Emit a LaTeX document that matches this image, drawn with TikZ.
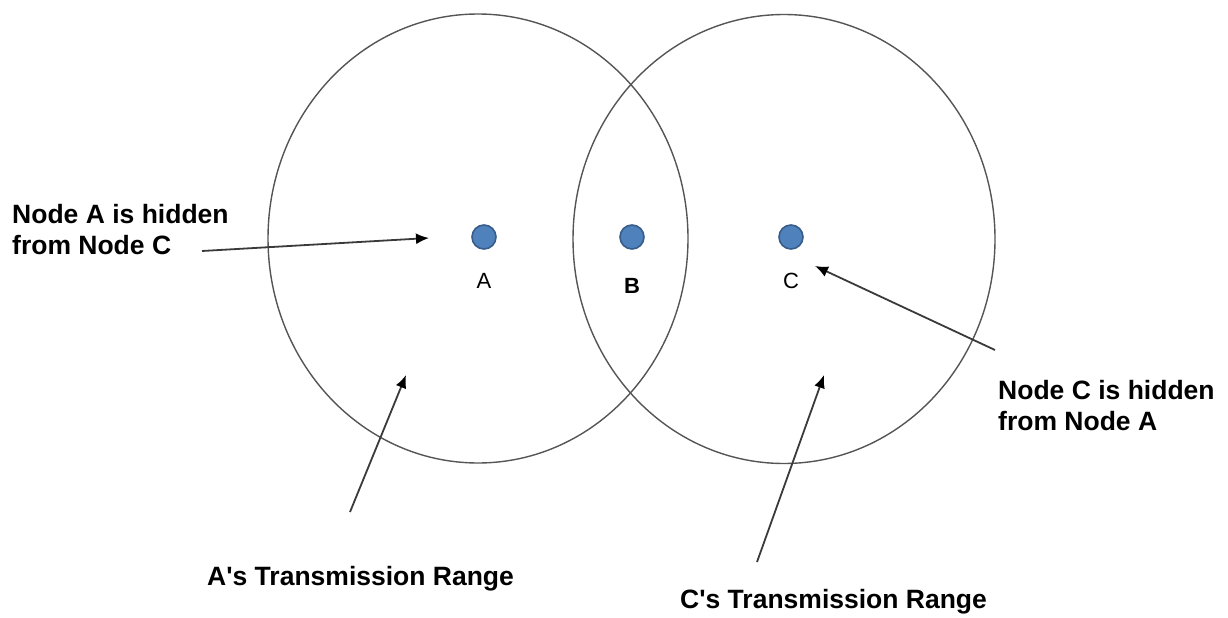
\documentclass[tikz,border=0pt]{standalone}
\usepackage{fontspec}
\setmainfont{Liberation Sans}
\usetikzlibrary{arrows.meta}
\definecolor{dotfill}{HTML}{4F81BD}
\definecolor{dotline}{HTML}{385D8A}
\definecolor{rangeline}{HTML}{555555}
\definecolor{arrline}{HTML}{3A3A3A}
\begin{document}
\begin{tikzpicture}[x=1pt,y=-1pt,
  rangering/.style={draw=rangeline,line width=1.4pt},
  station/.style={circle,fill=dotfill,draw=dotline,line width=1.6pt,minimum size=24pt,inner sep=0pt},
  stlabel/.style={anchor=base,inner sep=0pt,font=\fontsize{22}{26}\selectfont},
  note/.style={anchor=north west,inner sep=0pt,align=left,font=\fontsize{26.5}{31}\selectfont\bfseries},
  caption/.style={anchor=base west,inner sep=0pt,font=\fontsize{26.5}{30}\selectfont\bfseries},
  pointer/.style={draw=arrline,line width=1.8pt,-{Latex[length=13pt,width=11pt,black]}}]
\useasboundingbox (0,0) rectangle (1228,618);
% transmission ranges
\draw[rangering] (478,238.5) ellipse [x radius=210, y radius=224.5];
\draw[rangering] (784,239) ellipse [x radius=211, y radius=224.5];
% stations
\node[station] (A) at (484,237) {};
\node[station] (B) at (632,237) {};
\node[station] (C) at (791,237) {};
\node[stlabel] (Alab) at (484,288) {A};
\node[stlabel,font=\fontsize{22}{26}\selectfont\bfseries] (Blab) at (632,293) {B};
\node[stlabel] (Clab) at (791,288) {C};
% notes
\node[note] (noteA) at (12,204) {Node A is hidden\\from Node C};
\node[note] (noteC) at (998,380) {Node C is hidden\\from Node A};
\node[caption] (capA) at (207,585) {A\textquotesingle s Transmission Range};
\node[caption] (capC) at (680,608) {C\textquotesingle s Transmission Range};
% pointer ends
\coordinate (pA0) at (202,251);
\coordinate (pA1) at (429,238);
\coordinate (pC0) at (995,350);
\coordinate (pC1) at (815,266);
\coordinate (rA0) at (350,512);
\coordinate (rA1) at (406,375);
\coordinate (rC0) at (757,562);
\coordinate (rC1) at (824,375);
\draw[pointer] (pA0) -- (pA1);
\draw[pointer] (pC0) -- (pC1);
\draw[pointer] (rA0) -- (rA1);
\draw[pointer] (rC0) -- (rC1);
\end{tikzpicture}
\end{document}
